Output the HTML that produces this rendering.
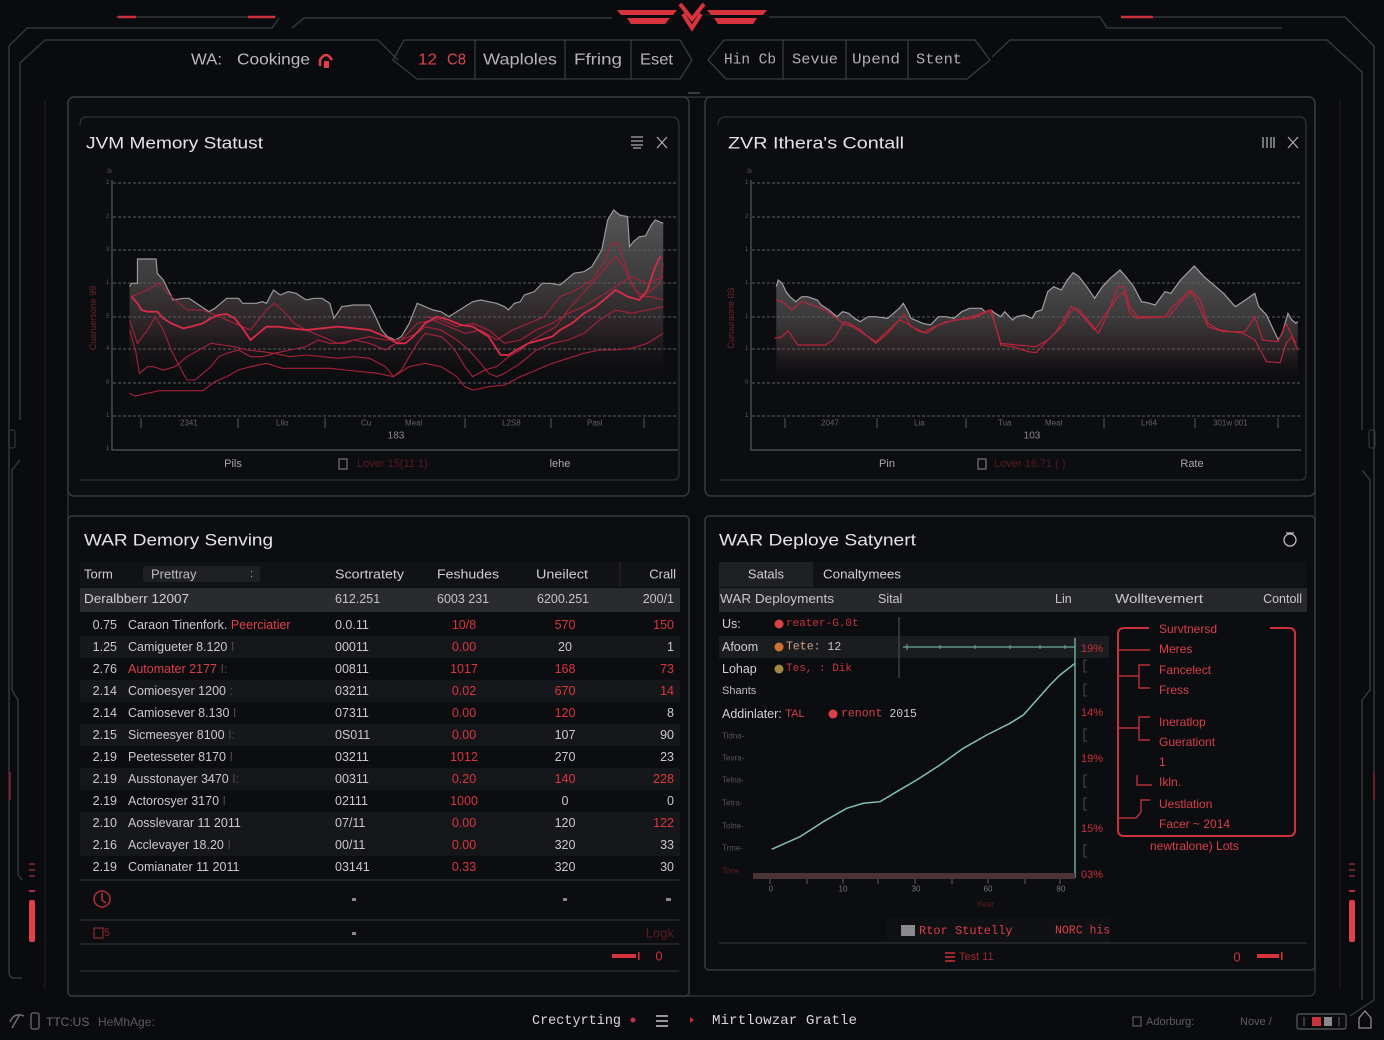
<!DOCTYPE html>
<html><head><meta charset="utf-8">
<style>
html,body{margin:0;padding:0;background:#0a0b0e;width:1384px;height:1040px;overflow:hidden}
svg{display:block}
text{font-family:"Liberation Sans",sans-serif;dominant-baseline:central}
.m{font-family:"Liberation Mono",monospace}
.ns{vector-effect:non-scaling-stroke}
</style></head><body>
<svg width="1384" height="1040" viewBox="0 0 1384 1040" xmlns="http://www.w3.org/2000/svg">
<defs>
<linearGradient id="gf" x1="0" y1="0" x2="0" y2="1">
<stop offset="0" stop-color="#555557"/>
<stop offset="0.4" stop-color="#3d3b3c"/>
<stop offset="0.7" stop-color="#2a2124"/>
<stop offset="1" stop-color="#0c0d10" stop-opacity="0"/>
</linearGradient>
<linearGradient id="gf2" x1="0" y1="0" x2="0" y2="1">
<stop offset="0" stop-color="#505052"/>
<stop offset="0.45" stop-color="#3a3839"/>
<stop offset="0.7" stop-color="#2a2124"/>
<stop offset="1" stop-color="#0c0d10" stop-opacity="0"/>
</linearGradient>
</defs>
<rect width="1384" height="1040" fill="#0a0b0e"/>

<!-- ===== outer frame lines ===== -->
<g fill="none" stroke="#34363b" stroke-width="1.5">
<path d="M9,972 L9,46 L27,28 L272,28 L279,18"/>
<path d="M116,17 L276,17"/>
<path d="M292,28 L304,18 L612,18"/>
<path d="M20,420 L20,63 L45,40 L378,40 L398,60"/>
<path d="M769,17 L1100,17 L1107,28 L1282,28"/>
<path d="M1153,17 L1345,17 L1374,46 L1374,1000 L1350,1016"/>
<path d="M992,57 L1010,40 L1327,40 L1362,72 L1362,430"/>
<path d="M20,460 L12,470 L12,690 L18,700 L18,875 L22,880"/>
<path d="M1362,470 L1370,480 L1370,690 L1362,700 L1362,1000"/>
<path d="M9,972 Q9,978 15,978 L22,978"/>
</g>
<g stroke="#1a1b1f" stroke-width="1.5" fill="none">
<path d="M45,100 L45,990"/><path d="M1340,100 L1340,990"/>
</g>
<g stroke="#c8323c" stroke-width="2.5">
<path d="M118,17 L136,17"/><path d="M248,17 L275,17"/>
<path d="M1121,17 L1153,17"/>
</g>
<rect x="29" y="900" width="6" height="42" rx="2" fill="#e0404a"/>
<rect x="29" y="890" width="6" height="2" fill="#b03040"/>
<g stroke="#8a2a32" stroke-width="1.5"><path d="M29,864 L35,864 M29,870 L35,870 M29,876 L35,876"/></g>
<rect x="1349" y="900" width="6" height="42" rx="2" fill="#e0404a"/>
<rect x="1349" y="890" width="6" height="2" fill="#b03040"/>
<g stroke="#8a2a32" stroke-width="1.5"><path d="M1349,864 L1355,864 M1349,870 L1355,870 M1349,876 L1355,876"/></g>
<rect x="9" y="430" width="6" height="18" rx="2" fill="none" stroke="#3a3c40"/>
<rect x="1369" y="430" width="6" height="18" rx="2" fill="none" stroke="#3a3c40"/>
<path d="M10,772 L10,800" stroke="#6a2028" stroke-width="2"/>
<path d="M1374,772 L1374,800" stroke="#6a2028" stroke-width="2"/>

<!-- ===== logo ===== -->
<g fill="#d8333d">
<polygon points="617,10 677,10 673,15 621,15"/>
<polygon points="627,18 670,18 665,24 631,24"/>
<polygon points="707,10 767,10 763,15 711,15"/>
<polygon points="714,18 757,18 753,24 718,24"/>
</g>
<g fill="none" stroke="#d8333d" stroke-width="4">
<polyline points="680,4 692,19 704,4"/>
<polyline points="683,14 692,28 701,14"/>
</g>

<!-- ===== header nav ===== -->
<g fill="none" stroke="#3a3c41" stroke-width="1.3">
<polygon points="404,40 680,40 692,60 680,79 417,79 393,60"/>
<path d="M475,40 L475,79 M565,40 L565,79 M631,40 L631,79"/>
<polygon points="724,40 975,40 990,60 967,79 726,79 708,60"/>
<path d="M783,40 L783,79 M846,40 L846,79 M908,40 L908,79"/>
</g>
<text x="191" y="60" font-size="16" fill="#bcbcbc" textLength="31" lengthAdjust="spacingAndGlyphs">WA:</text>
<text x="237" y="60" font-size="16" fill="#bcbcbc" textLength="73" lengthAdjust="spacingAndGlyphs">Cookinge</text>
<path d="M320,66 L320,60 Q326,50 332,60" fill="none" stroke="#e0404a" stroke-width="2.5"/>
<rect x="324" y="61" width="5" height="7" fill="#e0404a"/>
<text x="418" y="60" font-size="16" fill="#e0404a" textLength="19" lengthAdjust="spacingAndGlyphs">12</text>
<text x="447" y="60" font-size="16" fill="#d84a52" textLength="19" lengthAdjust="spacingAndGlyphs">C8</text>
<text x="483" y="60" font-size="16" fill="#b5b5b5" textLength="74" lengthAdjust="spacingAndGlyphs">Waploles</text>
<text x="574" y="60" font-size="16" fill="#b5b5b5" textLength="48" lengthAdjust="spacingAndGlyphs">Ffring</text>
<text x="640" y="60" font-size="16" fill="#b5b5b5" textLength="33" lengthAdjust="spacingAndGlyphs">Eset</text>
<text class="m" x="724" y="60" font-size="15" fill="#b0b0b0" textLength="52" lengthAdjust="spacingAndGlyphs">Hin Cb</text>
<text class="m" x="792" y="60" font-size="15" fill="#b0b0b0" textLength="46" lengthAdjust="spacingAndGlyphs">Sevue</text>
<text class="m" x="852" y="60" font-size="15" fill="#b0b0b0" textLength="48" lengthAdjust="spacingAndGlyphs">Upend</text>
<text class="m" x="916" y="60" font-size="15" fill="#b0b0b0" textLength="46" lengthAdjust="spacingAndGlyphs">Stent</text>
<path d="M688,93 L700,93" stroke="#4a4c50" stroke-width="1.5"/>

<!-- ===== big section frame ===== -->
<rect x="68" y="97" width="1247" height="899" rx="6" fill="#0b0c0f" stroke="#2e3035" stroke-width="1.5"/>

<!-- ===== TOP LEFT PANEL ===== -->
<rect x="68" y="97" width="621" height="399" rx="6" fill="#0c0d10" stroke="#383a3f" stroke-width="1.5"/>
<path d="M80,125 Q80,117 86,117 L671,117 Q679,117 679,125 L679,474 Q679,480 673,480 L80,480" fill="none" stroke="#2f3136" stroke-width="1.3"/>
<text x="86" y="143" font-size="17" fill="#e4e4e4" textLength="177" lengthAdjust="spacingAndGlyphs">JVM Memory Statust</text>
<g stroke="#aaa" stroke-width="1.3" fill="none">
<path d="M631,137 L643,137 M631,141 L643,141 M631,145 L643,145 M633,148 L641,148"/>
<path d="M657,137 L667,148 M667,137 L657,148"/>
</g>
<g transform="translate(68,110) scale(0.39683,0.33333)">
<path fill="url(#gf)" stroke="none" d="M155,530 L160,520 L175,520 L175,447 L222,447 L225,490 L240,510 L265,570 L290,565 L305,565 L330,585 L355,605 L370,595 L400,565 L430,565 L440,580 L475,580 L490,575 L500,580 L518,540 L535,555 L555,545 L575,550 L600,570 L620,565 L640,565 L660,580 L670,625 L690,590 L720,585 L760,585 L775,620 L790,660 L805,680 L825,690 L840,680 L860,640 L880,580 L900,590 L920,600 L940,605 L960,620 L980,605 L1000,590 L1020,575 L1040,570 L1060,575 L1080,580 L1100,590 L1110,600 L1125,580 L1140,575 L1150,555 L1175,545 L1195,520 L1215,520 L1240,525 L1255,510 L1275,490 L1300,485 L1320,470 L1345,420 L1360,330 L1375,300 L1390,315 L1410,320 L1415,410 L1425,395 L1440,380 L1455,378 L1470,345 L1480,330 L1500,340 L1500,820 L155,820 Z"/>
</g>
<!-- grid -->
<g stroke="#5c5d60" stroke-width="1" stroke-dasharray="3,2">
<path d="M113,183 L677,183 M113,217 L677,217 M113,250 L677,250 M113,283 L677,283 M113,317 L677,317 M113,349 L677,349 M113,383 L677,383 M113,416 L677,416"/>
</g>
<path d="M112,180 L112,450 L678,450" fill="none" stroke="#55575b" stroke-width="1.2"/>
<g font-size="6" fill="#5a5a5a">
<text x="107" y="172">3r</text><text x="106" y="183">2</text><text x="106" y="217">2</text><text x="106" y="250">3</text><text x="106" y="283">1</text><text x="106" y="317">5</text><text x="106" y="349">4</text><text x="106" y="383">0</text><text x="106" y="416">1</text><text x="106" y="449">1</text>
</g>
<text x="93" y="318" font-size="9" fill="#6e252c" transform="rotate(-90 93 318)" text-anchor="middle">Cuaruersone 99</text>
<g transform="translate(68,110) scale(0.39683,0.33333)" fill="none">
<path class="ns" stroke="#9a9a9c" stroke-width="1.2" d="M155,530 L160,520 L175,520 L175,447 L222,447 L225,490 L240,510 L265,570 L290,565 L305,565 L330,585 L355,605 L370,595 L400,565 L430,565 L440,580 L475,580 L490,575 L500,580 L518,540 L535,555 L555,545 L575,550 L600,570 L620,565 L640,565 L660,580 L670,625 L690,590 L720,585 L760,585 L775,620 L790,660 L805,680 L825,690 L840,680 L860,640 L880,580 L900,590 L920,600 L940,605 L960,620 L980,605 L1000,590 L1020,575 L1040,570 L1060,575 L1080,580 L1100,590 L1110,600 L1125,580 L1140,575 L1150,555 L1175,545 L1195,520 L1215,520 L1240,525 L1255,510 L1275,490 L1300,485 L1320,470 L1345,420 L1360,330 L1375,300 L1390,315 L1410,320 L1415,410 L1425,395 L1440,380 L1455,378 L1470,345 L1480,330 L1500,340"/>
<g stroke="#a8223a" stroke-width="1.1">
<path class="ns" d="M155,630 L175,700 L200,660 L220,620 L240,660 L260,720 L290,790 L300,810 L320,810 L340,790 L360,770 L380,740 L400,730 L430,720 L460,740 L490,740 L520,730 L560,740 L600,735 L640,740 L680,745 L720,740 L760,745 L800,770 L820,800 L840,780 L860,740 L880,700 L900,670 L940,680 L960,700 L980,730 L1000,770 L1020,800 L1050,780 L1080,770 L1110,740 L1140,720 L1170,690 L1200,670 L1230,650 L1260,600 L1290,560 L1320,520 L1350,480 L1380,440 L1400,470 L1430,540 L1450,560 L1470,540 L1490,520 L1500,460"/>
<path class="ns" d="M155,850 L170,858 L200,850 L230,842 L260,842 L300,842 L340,842 L370,815 L400,800 L430,780 L460,770 L500,760 L540,775 L580,775 L620,775 L660,775 L700,780 L740,785 L780,790 L820,800 L860,770 L900,760 L940,770 L980,800 L1000,830 L1020,840 L1060,830 L1100,825 L1140,800 L1180,780 L1220,760 L1260,745 L1300,730 L1340,720 L1380,720 L1420,715 L1460,700 L1500,670"/>
<path class="ns" d="M155,660 L170,720 L180,790 L200,770 L215,770 L240,780 L270,770 L300,740 L330,720 L360,700 L390,705 L420,710 L450,720 L490,725 L520,730 L560,720 L600,710 L630,690 L660,700 L700,700 L720,690 L760,700 L800,720 L840,690 L880,670 L900,650 L940,660 L980,690 L1010,720 L1040,760 L1060,790 L1080,800 L1100,790 L1140,760 L1180,720 L1220,700 L1260,690 L1300,670 L1340,630 L1380,600 L1420,610 L1460,600 L1500,590"/>
<path class="ns" d="M160,560 L200,540 L230,520 L245,540 L260,560 L300,600 L340,600 L380,620 L420,640 L460,660 L500,600 L520,580 L540,600 L570,640 L600,660 L640,680 L680,700 L720,690 L760,680 L800,690 L840,690 L880,640 L920,630 L960,650 L1000,670 L1040,660 L1080,690 L1120,660 L1160,640 L1200,620 L1240,560 L1280,540 L1320,510 L1350,460 L1370,400 L1385,400 L1400,450 L1420,520 L1440,560 L1470,560 L1500,570"/>
<path class="ns" d="M900,620 L940,630 L980,650 L1020,640 L1060,660 L1100,700 L1140,690 L1180,660 L1220,640 L1260,610 L1300,590 L1340,560 L1380,530 L1420,500 L1460,520 L1500,500"/>
</g>
<path class="ns" stroke="#d82c4a" stroke-width="1.8" d="M160,560 L175,580 L185,600 L200,605 L225,605 L240,625 L260,640 L290,655 L310,650 L340,640 L360,625 L380,615 L400,612 L420,625 L440,655 L460,690 L480,670 L500,650 L530,650 L560,655 L600,660 L640,655 L680,650 L720,655 L760,660 L800,680 L830,700 L850,700 L870,680 L900,640 L930,620 L960,630 L990,645 L1020,650 L1060,680 L1090,735 L1110,735 L1130,720 L1160,700 L1190,690 L1220,680 L1240,660 L1270,640 L1300,610 L1330,590 L1350,570 L1380,540 L1410,560 L1440,570 L1460,540 L1480,470 L1490,445 L1495,440"/>
</g>
<g stroke="#55575b" stroke-width="1"><path d="M141,418 L141,428 M238,418 L238,428 M325,418 L325,428 M465,418 L465,428 M551,418 L551,428 M644,418 L644,428"/></g>
<g font-size="8" fill="#626264">
<text x="180" y="423">2341</text><text x="276" y="423">Lllo</text><text x="361" y="423">Cu</text><text x="405" y="423">Meal</text><text x="502" y="423">L2S8</text><text x="587" y="423">Pasl</text>
</g>
<text x="396" y="436" font-size="10" fill="#8a8a8a" text-anchor="middle">183</text>
<text x="233" y="464" font-size="11" fill="#a8a8a8" text-anchor="middle">Pils</text>
<rect x="339" y="459" width="8" height="10" fill="none" stroke="#777" stroke-width="1.2"/>
<text x="357" y="464" font-size="11" fill="#5a1a20">Lover 15(11 1)</text>
<text x="560" y="464" font-size="11" fill="#a8a8a8" text-anchor="middle">lehe</text>

<!-- ===== TOP RIGHT PANEL ===== -->
<rect x="705" y="97" width="610" height="399" rx="6" fill="#0c0d10" stroke="#383a3f" stroke-width="1.5"/>
<path d="M718,125 Q718,117 726,117 L1300,117 Q1306,117 1306,125 L1306,474 Q1306,480 1300,480 L720,480" fill="none" stroke="#2f3136" stroke-width="1.3"/>
<text x="728" y="143" font-size="17" fill="#e4e4e4" textLength="176" lengthAdjust="spacingAndGlyphs">ZVR Ithera's Contall</text>
<g stroke="#aaa" stroke-width="1.3" fill="none">
<path d="M1263,137 L1263,148 M1267,137 L1267,148 M1271,137 L1271,148 M1274,137 L1274,148"/>
<path d="M1288,137 L1298,148 M1298,137 L1288,148"/>
</g>
<g transform="translate(704,110) scale(0.390625,0.33333)">
<path fill="url(#gf2)" stroke="none" d="M185,530 L190,510 L200,520 L210,545 L220,560 L235,575 L250,560 L265,560 L290,570 L300,585 L320,600 L340,620 L355,605 L370,610 L385,625 L400,635 L420,620 L440,620 L470,625 L500,595 L510,580 L520,600 L530,625 L560,640 L580,645 L600,620 L620,620 L640,625 L660,605 L680,595 L710,595 L720,605 L735,600 L745,610 L760,620 L770,605 L790,630 L800,620 L820,615 L840,625 L850,605 L865,600 L880,545 L895,530 L915,540 L930,510 L945,488 L960,500 L980,530 L1000,565 L1020,530 L1040,505 L1065,480 L1080,500 L1100,530 L1120,575 L1135,578 L1155,585 L1180,545 L1195,550 L1220,510 L1255,468 L1280,500 L1300,520 L1330,550 L1360,590 L1380,575 L1410,550 L1420,590 L1440,615 L1450,640 L1470,690 L1480,670 L1495,610 L1505,630 L1515,640 L1520,635 L1520,830 L185,830 Z"/>
</g>
<g stroke="#5c5d60" stroke-width="1" stroke-dasharray="3,2">
<path d="M752,183 L1300,183 M752,217 L1300,217 M752,250 L1300,250 M752,283 L1300,283 M752,317 L1300,317 M752,349 L1300,349 M752,383 L1300,383 M752,416 L1300,416"/>
</g>
<path d="M751,180 L751,450 L1301,450" fill="none" stroke="#55575b" stroke-width="1.2"/>
<g font-size="6" fill="#5a5a5a">
<text x="747" y="172">3r</text><text x="745" y="183">1</text><text x="745" y="217">2</text><text x="745" y="250">1</text><text x="745" y="283">1</text><text x="745" y="317">1</text><text x="745" y="349">1</text><text x="745" y="383">0</text><text x="745" y="416">1</text>
</g>
<text x="731" y="318" font-size="9" fill="#6e252c" transform="rotate(-90 731 318)" text-anchor="middle">Curuuraone 0S</text>
<g transform="translate(704,110) scale(0.390625,0.33333)" fill="none">
<path class="ns" stroke="#a0a0a2" stroke-width="1.2" d="M185,530 L190,510 L200,520 L210,545 L220,560 L235,575 L250,560 L265,560 L290,570 L300,585 L320,600 L340,620 L355,605 L370,610 L385,625 L400,635 L420,620 L440,620 L470,625 L500,595 L510,580 L520,600 L530,625 L560,640 L580,645 L600,620 L620,620 L640,625 L660,605 L680,595 L710,595 L720,605 L735,600 L745,610 L760,620 L770,605 L790,630 L800,620 L820,615 L840,625 L850,605 L865,600 L880,545 L895,530 L915,540 L930,510 L945,488 L960,500 L980,530 L1000,565 L1020,530 L1040,505 L1065,480 L1080,500 L1100,530 L1120,575 L1135,578 L1155,585 L1180,545 L1195,550 L1220,510 L1255,468 L1280,500 L1300,520 L1330,550 L1360,590 L1380,575 L1410,550 L1420,590 L1440,615 L1450,640 L1470,690 L1480,670 L1495,610 L1505,630 L1515,640 L1520,635"/>
<g stroke="#b8263c" stroke-width="1.2">
<path class="ns" d="M185,570 L200,575 L225,600 L250,575 L290,590 L310,600 L340,625 L355,640 L380,650 L440,695 L500,630 L512,612 L530,650 L570,670 L600,645 L640,630 L690,625 L735,600 L760,700 L800,705 L850,710 L880,690 L920,645 L935,610 L950,595 L970,620 L1000,660 L1030,610 L1060,560 L1075,545 L1090,610 L1110,625 L1190,620 L1225,570 L1250,545 L1290,650 L1330,665 L1385,665 L1410,620 L1430,690 L1470,695 L1490,640 L1515,700"/>
<path class="ns" d="M180,685 L200,680 L215,662 L240,705 L270,705 L310,705 L330,690 L360,635 L380,645 L400,660 L440,700 L470,670 L500,630 L520,640 L545,660 L560,668 L590,650 L620,635 L650,630 L700,615 L730,600 L745,640 L760,705 L790,710 L830,725 L850,728 L880,690 L900,668 L920,630 L940,590 L960,600 L990,640 L1010,670 L1030,620 L1060,530 L1075,530 L1090,590 L1110,620 L1180,620 L1200,590 L1245,540 L1270,570 L1290,640 L1320,660 L1380,670 L1410,690 L1440,755 L1475,758 L1490,700 L1505,680 L1520,720"/>
</g>
</g>
<g stroke="#55575b" stroke-width="1"><path d="M785,418 L785,428 M877,418 L877,428 M966,418 L966,428 M1104,418 L1104,428 M1195,418 L1195,428 M1278,418 L1278,428"/></g>
<g font-size="8" fill="#626264">
<text x="821" y="423">2047</text><text x="914" y="423">Lia</text><text x="998" y="423">Tua</text><text x="1045" y="423">Meal</text><text x="1141" y="423">Lr64</text><text x="1213" y="423">301w 001</text>
</g>
<text x="1032" y="436" font-size="10" fill="#8a8a8a" text-anchor="middle">103</text>
<text x="887" y="464" font-size="11" fill="#a8a8a8" text-anchor="middle">Pin</text>
<rect x="978" y="459" width="8" height="10" fill="none" stroke="#777" stroke-width="1.2"/>
<text x="994" y="464" font-size="11" fill="#5a1a20">Lover 16.71 ( )</text>
<text x="1192" y="464" font-size="11" fill="#a8a8a8" text-anchor="middle">Rate</text>

<!-- ===== BOTTOM LEFT PANEL (table) ===== -->
<rect x="68" y="516" width="621" height="480" rx="4" fill="#0c0d10" stroke="#383a3f" stroke-width="1.5"/>
<path d="M80,971 L679,971" stroke="#2f3136" stroke-width="1.3"/>
<text x="84" y="540" font-size="17" fill="#e4e4e4" textLength="189" lengthAdjust="spacingAndGlyphs">WAR Demory Senving</text>
<rect x="80" y="562" width="600" height="25" fill="#111215"/>
<rect x="143" y="566" width="117" height="16" rx="2" fill="#1f2024"/>
<path d="M620,562 L620,587" stroke="#2a2b30"/>
<text x="84" y="574" font-size="13" fill="#cfcfcf">Torm</text>
<text x="151" y="574" font-size="13" fill="#bdbdbd">Prettray</text>
<text x="250" y="574" font-size="11" fill="#aaa">:</text>
<text x="335" y="574" font-size="13" fill="#cfcfcf" textLength="69" lengthAdjust="spacingAndGlyphs">Scortratety</text>
<text x="437" y="574" font-size="13" fill="#cfcfcf" textLength="62" lengthAdjust="spacingAndGlyphs">Feshudes</text>
<text x="536" y="574" font-size="13" fill="#cfcfcf" textLength="52" lengthAdjust="spacingAndGlyphs">Uneilect</text>
<text x="676" y="574" font-size="13" fill="#cfcfcf" text-anchor="end">Crall</text>
<rect x="80" y="588" width="600" height="24" fill="#2a2b2f"/>
<text x="84" y="599" font-size="12.5" fill="#cfcfcf" textLength="105" lengthAdjust="spacingAndGlyphs">Deralbberr 12007</text>
<text x="335" y="599" font-size="12.5" fill="#c4c4c4">612.251</text>
<text x="437" y="599" font-size="12.5" fill="#c4c4c4">6003 231</text>
<text x="537" y="599" font-size="12.5" fill="#c4c4c4">6200.251</text>
<text x="674" y="599" font-size="12.5" fill="#c4c4c4" text-anchor="end">200/1</text>
<g fill="#16171b">
<rect x="80" y="636" width="600" height="22"/><rect x="80" y="680" width="600" height="22"/><rect x="80" y="724" width="600" height="22"/><rect x="80" y="768" width="600" height="22"/><rect x="80" y="812" width="600" height="22"/><rect x="80" y="834" width="600" height="22"/>
</g>
<g font-size="12.5" fill="#cacaca">
<g text-anchor="end">
<text x="117" y="625">0.75</text><text x="117" y="647">1.25</text><text x="117" y="669">2.76</text><text x="117" y="691">2.14</text><text x="117" y="713">2.14</text><text x="117" y="735">2.15</text><text x="117" y="757">2.19</text><text x="117" y="779">2.19</text><text x="117" y="801">2.19</text><text x="117" y="823">2.10</text><text x="117" y="845">2.16</text><text x="117" y="867">2.19</text>
</g>
<text x="128" y="625">Caraon Tinenfork. <tspan fill="#e0404a">Peerciatier</tspan></text>
<text x="128" y="647">Camigueter 8.120 <tspan fill="#4a4a4a">I</tspan></text>
<text x="128" y="669"><tspan fill="#d8404a">Automater 2177</tspan> <tspan fill="#4a4a4a">I:</tspan></text>
<text x="128" y="691">Comioesyer 1200 <tspan fill="#4a4a4a">:</tspan></text>
<text x="128" y="713">Camiosever 8.130 <tspan fill="#4a4a4a">I</tspan></text>
<text x="128" y="735">Sicmeesyer 8100 <tspan fill="#4a4a4a">I:</tspan></text>
<text x="128" y="757">Peetesseter 8170 <tspan fill="#4a4a4a">I</tspan></text>
<text x="128" y="779">Ausstonayer 3470 <tspan fill="#4a4a4a">I:</tspan></text>
<text x="128" y="801">Actorosyer 3170 <tspan fill="#4a4a4a">I</tspan></text>
<text x="128" y="823">Aosslevarar 11 2011</text>
<text x="128" y="845">Acclevayer 18.20 <tspan fill="#4a4a4a">I</tspan></text>
<text x="128" y="867">Comianater 11 2011</text>
<text x="335" y="625">0.0.11</text><text x="335" y="647">00011</text><text x="335" y="669">00811</text><text x="335" y="691">03211</text><text x="335" y="713">07311</text><text x="335" y="735">0S011</text><text x="335" y="757">03211</text><text x="335" y="779">00311</text><text x="335" y="801">02111</text><text x="335" y="823">07/11</text><text x="335" y="845">00/11</text><text x="335" y="867">03141</text>
<g text-anchor="middle" fill="#d8363f">
<text x="464" y="625">10/8</text><text x="464" y="647">0.00</text><text x="464" y="669">1017</text><text x="464" y="691">0.02</text><text x="464" y="713">0.00</text><text x="464" y="735">0.00</text><text x="464" y="757">1012</text><text x="464" y="779">0.20</text><text x="464" y="801">1000</text><text x="464" y="823">0.00</text><text x="464" y="845">0.00</text><text x="464" y="867">0.33</text>
</g>
<g text-anchor="middle">
<text x="565" y="625" fill="#d8363f">570</text><text x="565" y="647">20</text><text x="565" y="669" fill="#d8363f">168</text><text x="565" y="691" fill="#d8363f">670</text><text x="565" y="713" fill="#d8363f">120</text><text x="565" y="735">107</text><text x="565" y="757">270</text><text x="565" y="779" fill="#d8363f">140</text><text x="565" y="801">0</text><text x="565" y="823">120</text><text x="565" y="845">320</text><text x="565" y="867">320</text>
</g>
<g text-anchor="end">
<text x="674" y="625" fill="#d8363f">150</text><text x="674" y="647">1</text><text x="674" y="669" fill="#d8363f">73</text><text x="674" y="691" fill="#d8363f">14</text><text x="674" y="713">8</text><text x="674" y="735">90</text><text x="674" y="757">23</text><text x="674" y="779" fill="#d8363f">228</text><text x="674" y="801">0</text><text x="674" y="823" fill="#d8363f">122</text><text x="674" y="845">33</text><text x="674" y="867">30</text>
</g>
</g>
<g stroke="#2f3136" stroke-width="1.3"><path d="M80,880 L679,880 M80,920 L679,920 M80,944 L679,944"/></g>
<circle cx="102" cy="899" r="8" fill="none" stroke="#b0303a" stroke-width="1.5"/>
<path d="M102,893 L102,900 L106,903" stroke="#b0303a" stroke-width="1.5" fill="none"/>
<g fill="#888"><rect x="352" y="898" width="4" height="3"/><rect x="563" y="898" width="4" height="3"/><rect x="666" y="898" width="5" height="3"/><rect x="352" y="932" width="4" height="3"/></g>
<rect x="94" y="928" width="9" height="10" fill="none" stroke="#8a2a32" stroke-width="1.2"/>
<text x="104" y="933" font-size="11" fill="#8a2a32">5</text>
<text x="674" y="933" font-size="13" fill="#5a1c22" text-anchor="end">Logk</text>
<rect x="612" y="954" width="24" height="4" fill="#d8333d"/><rect x="638" y="952" width="1.5" height="8" fill="#d8333d"/>
<text x="659" y="956" font-size="13" fill="#c8323c" text-anchor="middle">0</text>

<!-- ===== BOTTOM RIGHT PANEL ===== -->
<rect x="705" y="516" width="610" height="454" rx="4" fill="#0c0d10" stroke="#383a3f" stroke-width="1.5"/>
<text x="719" y="540" font-size="17" fill="#e4e4e4" textLength="197" lengthAdjust="spacingAndGlyphs">WAR Deploye Satynert</text>
<circle cx="1290" cy="540" r="6" fill="none" stroke="#bbb" stroke-width="1.3"/>
<path d="M1286,533 L1294,533" stroke="#bbb" stroke-width="1.3"/>
<rect x="719" y="562" width="588" height="25" fill="#111215"/>
<rect x="719" y="562" width="94" height="25" fill="#1f2024"/>
<text x="766" y="574" font-size="13" fill="#cfcfcf" text-anchor="middle">Satals</text>
<text x="823" y="574" font-size="13" fill="#cfcfcf" textLength="78" lengthAdjust="spacingAndGlyphs">Conaltymees</text>
<rect x="719" y="588" width="588" height="24" fill="#26272b"/>
<text x="720" y="599" font-size="12.5" fill="#c8c8c8" textLength="114" lengthAdjust="spacingAndGlyphs">WAR Deployments</text>
<text x="878" y="599" font-size="12.5" fill="#c8c8c8">Sital</text>
<text x="1055" y="599" font-size="12.5" fill="#c8c8c8">Lin</text>
<text x="1115" y="599" font-size="12.5" fill="#c8c8c8" textLength="88" lengthAdjust="spacingAndGlyphs">Wolltevemert</text>
<text x="1302" y="599" font-size="12.5" fill="#c8c8c8" text-anchor="end">Contoll</text>
<rect x="719" y="636" width="390" height="22" fill="#1b1c20"/>
<path d="M899,617 L899,678" stroke="#4a4c50" stroke-width="1.2"/>
<path d="M903,647 L1075,647" stroke="#6fa898" stroke-width="1.2"/>
<g stroke="#6fa898" stroke-width="1"><path d="M907,644 L907,650 M940,645 L940,649 M975,645 L975,649 M1010,645 L1010,649 M1040,645 L1040,649 M1065,645 L1065,649"/></g>
<g font-size="12.5" fill="#d0d0d0">
<text x="722" y="624">Us:</text>
<text x="722" y="647">Afoom</text>
<text x="722" y="669">Lohap</text>
<text x="722" y="691" font-size="11" fill="#bdbdbd">Shants</text>
<text x="722" y="714">Addinlater: <tspan fill="#d8404a" font-size="11">TAL</tspan></text>
</g>
<circle cx="779" cy="624" r="4.5" fill="#d8404a"/>
<text class="m" x="786" y="624" font-size="11" fill="#c8323c">reater-G.0t</text>
<circle cx="779" cy="647" r="4.5" fill="#d07030"/>
<text class="m" x="786" y="647" font-size="11.5" fill="#d0a080">Tete: <tspan fill="#c0c0c0">12</tspan></text>
<circle cx="779" cy="669" r="4.5" fill="#a08840"/>
<text class="m" x="786" y="669" font-size="11" fill="#c8323c">Tes, : Dik</text>
<circle cx="833" cy="714" r="4.5" fill="#d8404a"/>
<text class="m" x="841" y="714" font-size="11.5" fill="#d8404a">renont <tspan fill="#c8c8c8">2015</tspan></text>
<g font-size="8" fill="#555">
<text x="722" y="736">Tidna-</text><text x="722" y="758">Tevra-</text><text x="722" y="780">Telna-</text><text x="722" y="803">Tetra-</text><text x="722" y="826">Tolne-</text><text x="722" y="848">Trme-</text><text x="722" y="871" fill="#5a1c22">Tone</text>
</g>
<path d="M1075,638 L1075,878" stroke="#6fa898" stroke-width="1.5"/>
<rect x="753" y="873" width="322" height="6" fill="#4a3235"/>
<g stroke="#6a5a5a" stroke-width="1"><path d="M770,879 L770,884 M807,879 L807,884 M843,879 L843,884 M878,879 L878,884 M915,879 L915,884 M952,879 L952,884 M988,879 L988,884 M1025,879 L1025,884 M1060,879 L1060,884"/></g>
<g font-size="8" fill="#777" text-anchor="middle">
<text x="771" y="889">0</text><text x="843" y="889">10</text><text x="916" y="889">30</text><text x="988" y="889">60</text><text x="1061" y="889">80</text>
</g>
<text x="985" y="904" font-size="9" fill="#5a1c22" text-anchor="middle">Year</text>
<path d="M771.7,849.3 L800,836.7 L823.3,821.7 L846.7,808.3 L863.3,803.3 L880,801.7 L896.7,791.7 L916.7,780 L940,765 L963.3,748.3 L986.7,735 L1010,723.3 L1023.3,715 L1036.7,700 L1050,685 L1060,675 L1075,663.3" fill="none" stroke="#80c0b0" stroke-width="1.5"/>
<g class="m" font-size="11" fill="#c8323c">
<text x="1081" y="649">19%</text><text x="1081" y="713">14%</text><text x="1081" y="759">19%</text><text x="1081" y="829">15%</text><text x="1081" y="875">03%</text>
</g>
<g stroke="#4a4c50" stroke-width="1" fill="none">
<path d="M1087,660 L1084,660 L1084,672 L1087,672 M1087,684 L1084,684 L1084,696 L1087,696 M1087,729 L1084,729 L1084,741 L1087,741 M1087,775 L1084,775 L1084,787 L1087,787 M1087,798 L1084,798 L1084,810 L1087,810 M1087,845 L1084,845 L1084,857 L1087,857"/>
</g>
<path d="M1149,628 L1124,628 Q1118,628 1118,634 L1118,830 Q1118,836 1124,836 L1289,836 Q1295,836 1295,830 L1295,634 Q1295,628 1289,628 L1270,628" fill="none" stroke="#c8323c" stroke-width="2"/>
<g fill="none" stroke="#b83038" stroke-width="1.4">
<path d="M1118,650 L1150,650"/>
<path d="M1150,665 L1139,665 L1139,688 L1150,688 M1118,676 L1139,676"/>
<path d="M1150,717 L1139,717 L1139,740 L1150,740 M1118,728 L1139,728"/>
<path d="M1137,775 L1137,785 L1152,785"/>
<path d="M1150,800 L1141,800 L1141,812 L1136,818 L1118,818"/>
</g>
<g class="m" font-size="12" fill="#d8404a">
<text x="1159" y="629">Survtnersd</text>
<text x="1159" y="649">Meres</text>
<text x="1159" y="670">Fancelect</text>
<text x="1159" y="690">Fress</text>
<text x="1159" y="722">Ineratlop</text>
<text x="1159" y="742">Guerationt</text>
<text x="1159" y="762">1</text>
<text x="1159" y="782">Ikln.</text>
<text x="1159" y="804">Uestlation</text>
<text x="1159" y="824">Facer ~ 2014</text>
<text x="1150" y="846">newtralone)  Lots</text>
</g>
<rect x="887" y="918" width="223" height="25" fill="#101114"/>
<rect x="901" y="925" width="14" height="11" fill="#8a8a8c"/>
<text class="m" x="919" y="931" font-size="12" fill="#d8404a">Rtor Stutelly</text>
<text class="m" x="1055" y="931" font-size="11.5" fill="#d8404a">NORC his</text>
<path d="M719,943 L1307,943" stroke="#2f3136" stroke-width="1.3"/>
<g stroke="#c8323c" stroke-width="1.5"><path d="M945,953 L955,953 M945,957 L955,957 M945,961 L955,961"/></g>
<text x="959" y="957" font-size="11" fill="#9a2a32">Test 11</text>
<text x="1237" y="957" font-size="13" fill="#c8323c" text-anchor="middle">0</text>
<rect x="1257" y="954" width="22" height="4" fill="#d8333d"/><rect x="1281" y="952" width="1.5" height="8" fill="#d8333d"/>

<!-- ===== footer ===== -->
<path d="M12,1028 L20,1014 M10,1022 Q14,1012 24,1016" stroke="#6a6a6e" stroke-width="1.5" fill="none"/>
<rect x="31" y="1013" width="8" height="16" rx="2" fill="none" stroke="#6a6a6e" stroke-width="1.3"/>
<text x="46" y="1022" font-size="12" fill="#6a6a6e">TTC:US</text>
<text x="98" y="1022" font-size="12" fill="#5a5a5e">HeMhAge:</text>
<text class="m" x="532" y="1021" font-size="14" fill="#d8d8d8" textLength="89" lengthAdjust="spacingAndGlyphs">Crectyrting</text>
<circle cx="633" cy="1020" r="2.5" fill="#c03040"/>
<g stroke="#c8c8c8" stroke-width="1.5"><path d="M656,1016 L668,1016 M656,1021 L668,1021 M656,1026 L668,1026"/></g>
<path d="M690,1017 L694,1020 L690,1023" fill="#c03040"/>
<text class="m" x="712" y="1021" font-size="14" fill="#d8d8d8" textLength="145" lengthAdjust="spacingAndGlyphs">Mirtlowzar Gratle</text>
<rect x="1133" y="1017" width="8" height="9" fill="none" stroke="#6a6a6e" stroke-width="1"/>
<text x="1146" y="1022" font-size="11" fill="#5f5f63">Adorburg:</text>
<text x="1240" y="1022" font-size="11" fill="#5f5f63">Nove /</text>
<rect x="1297" y="1014" width="49" height="15" rx="2" fill="none" stroke="#5a5c60" stroke-width="1.2"/>
<rect x="1312" y="1017" width="9" height="9" fill="#c8323c"/>
<rect x="1324" y="1017" width="8" height="9" fill="#8a8a8c"/>
<path d="M1304,1017 L1304,1026 M1339,1017 L1339,1026" stroke="#6a6a6e"/>
<path d="M1359,1028 L1359,1018 L1365,1011 L1371,1018 L1371,1028 Z" fill="none" stroke="#8a8a8e" stroke-width="1.3"/>
</svg>
</body></html>
